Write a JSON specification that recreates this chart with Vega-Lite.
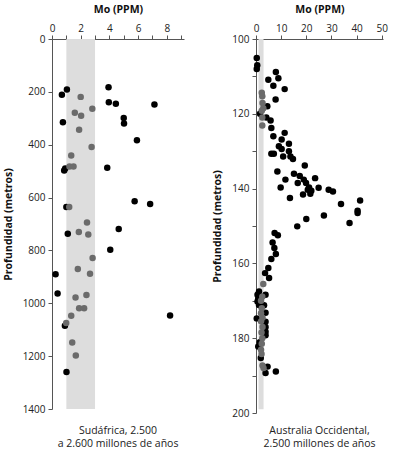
{
  "$schema": "https://vega.github.io/schema/vega-lite/v6.json",
  "background": "white",
  "padding": {"left": 3, "top": 4, "right": 5, "bottom": 0},
  "spacing": 28,
  "config": {
    "view": {"stroke": null},
    "font": "Open Sans",
    "axis": {
      "grid": false,
      "domainColor": "#555555",
      "tickColor": "#555555",
      "tickSize": 4,
      "labelFontSize": 10,
      "labelColor": "#222222",
      "titleFontSize": 10.5,
      "titleFontWeight": "bold",
      "titleColor": "#111111",
      "labelPadding": 3,
      "titlePadding": 9
    }
  },
  "datasets": {
    "sud": [
      {"mo": 3.94, "prof": 183, "serie": "A"},
      {"mo": 0.69, "prof": 211, "serie": "A"},
      {"mo": 1.04, "prof": 191, "serie": "A"},
      {"mo": 3.96, "prof": 239, "serie": "A"},
      {"mo": 4.45, "prof": 245, "serie": "A"},
      {"mo": 7.14, "prof": 248, "serie": "A"},
      {"mo": 5.0, "prof": 299, "serie": "A"},
      {"mo": 5.02, "prof": 320, "serie": "A"},
      {"mo": 0.76, "prof": 315, "serie": "A"},
      {"mo": 5.92, "prof": 383, "serie": "A"},
      {"mo": 3.85, "prof": 487, "serie": "A"},
      {"mo": 0.85, "prof": 498, "serie": "A"},
      {"mo": 0.92, "prof": 490, "serie": "A"},
      {"mo": 1.0, "prof": 636, "serie": "A"},
      {"mo": 5.76, "prof": 614, "serie": "A"},
      {"mo": 6.84, "prof": 624, "serie": "A"},
      {"mo": 4.65, "prof": 719, "serie": "A"},
      {"mo": 1.1, "prof": 737, "serie": "A"},
      {"mo": 4.06, "prof": 797, "serie": "A"},
      {"mo": 0.25, "prof": 890, "serie": "A"},
      {"mo": 0.39, "prof": 963, "serie": "A"},
      {"mo": 8.23, "prof": 1046, "serie": "A"},
      {"mo": 0.9, "prof": 1085, "serie": "A"},
      {"mo": 1.01, "prof": 1260, "serie": "A"},
      {"mo": 2.0, "prof": 219, "serie": "B"},
      {"mo": 2.81, "prof": 264, "serie": "B"},
      {"mo": 1.59, "prof": 279, "serie": "B"},
      {"mo": 2.03, "prof": 290, "serie": "B"},
      {"mo": 1.89, "prof": 343, "serie": "B"},
      {"mo": 2.76, "prof": 409, "serie": "B"},
      {"mo": 1.34, "prof": 441, "serie": "B"},
      {"mo": 1.22, "prof": 482, "serie": "B"},
      {"mo": 1.5, "prof": 482, "serie": "B"},
      {"mo": 1.2, "prof": 636, "serie": "B"},
      {"mo": 2.44, "prof": 694, "serie": "B"},
      {"mo": 1.87, "prof": 730, "serie": "B"},
      {"mo": 2.53, "prof": 740, "serie": "B"},
      {"mo": 2.83, "prof": 829, "serie": "B"},
      {"mo": 1.8, "prof": 870, "serie": "B"},
      {"mo": 2.65, "prof": 888, "serie": "B"},
      {"mo": 2.4, "prof": 969, "serie": "B"},
      {"mo": 1.64, "prof": 978, "serie": "B"},
      {"mo": 1.89, "prof": 1019, "serie": "B"},
      {"mo": 2.24, "prof": 1019, "serie": "B"},
      {"mo": 1.34, "prof": 1047, "serie": "B"},
      {"mo": 0.99, "prof": 1075, "serie": "B"},
      {"mo": 1.41, "prof": 1148, "serie": "B"},
      {"mo": 1.66, "prof": 1198, "serie": "B"}
    ],
    "aus": [
      {"mo": 0.3, "prof": 105.1, "serie": "A"},
      {"mo": 0.5, "prof": 107.0, "serie": "A"},
      {"mo": 0.3, "prof": 108.0, "serie": "A"},
      {"mo": 7.9, "prof": 108.8, "serie": "A"},
      {"mo": 8.9, "prof": 110.5, "serie": "A"},
      {"mo": 4.9, "prof": 110.9, "serie": "A"},
      {"mo": 6.9, "prof": 112.5, "serie": "A"},
      {"mo": 11.4, "prof": 113.4, "serie": "A"},
      {"mo": 7.8, "prof": 116.2, "serie": "A"},
      {"mo": 4.5, "prof": 118.0, "serie": "A"},
      {"mo": 1.6, "prof": 120.0, "serie": "A"},
      {"mo": 4.1, "prof": 121.0, "serie": "A"},
      {"mo": 5.8, "prof": 121.8, "serie": "A"},
      {"mo": 6.1, "prof": 123.8, "serie": "A"},
      {"mo": 11.4, "prof": 125.1, "serie": "A"},
      {"mo": 6.9, "prof": 126.0, "serie": "A"},
      {"mo": 10.2, "prof": 126.9, "serie": "A"},
      {"mo": 13.1, "prof": 128.0, "serie": "A"},
      {"mo": 9.1, "prof": 128.7, "serie": "A"},
      {"mo": 10.2, "prof": 129.4, "serie": "A"},
      {"mo": 13.1, "prof": 130.0, "serie": "A"},
      {"mo": 6.1, "prof": 130.7, "serie": "A"},
      {"mo": 7.1, "prof": 130.7, "serie": "A"},
      {"mo": 10.8, "prof": 131.4, "serie": "A"},
      {"mo": 13.7, "prof": 131.4, "serie": "A"},
      {"mo": 14.7, "prof": 132.1, "serie": "A"},
      {"mo": 19.4, "prof": 133.8, "serie": "A"},
      {"mo": 8.5, "prof": 135.4, "serie": "A"},
      {"mo": 15.1, "prof": 136.0, "serie": "A"},
      {"mo": 17.4, "prof": 136.6, "serie": "A"},
      {"mo": 11.7, "prof": 137.6, "serie": "A"},
      {"mo": 19.0, "prof": 137.6, "serie": "A"},
      {"mo": 23.5, "prof": 137.2, "serie": "A"},
      {"mo": 16.6, "prof": 138.5, "serie": "A"},
      {"mo": 19.9, "prof": 138.5, "serie": "A"},
      {"mo": 9.8, "prof": 139.7, "serie": "A"},
      {"mo": 21.1, "prof": 139.7, "serie": "A"},
      {"mo": 24.9, "prof": 139.8, "serie": "A"},
      {"mo": 20.6, "prof": 140.3, "serie": "A"},
      {"mo": 22.0, "prof": 140.6, "serie": "A"},
      {"mo": 28.9, "prof": 140.3, "serie": "A"},
      {"mo": 30.6, "prof": 140.8, "serie": "A"},
      {"mo": 18.7, "prof": 141.6, "serie": "A"},
      {"mo": 21.6, "prof": 141.4, "serie": "A"},
      {"mo": 13.5, "prof": 142.5, "serie": "A"},
      {"mo": 33.8, "prof": 144.1, "serie": "A"},
      {"mo": 41.4, "prof": 143.2, "serie": "A"},
      {"mo": 40.4, "prof": 145.9, "serie": "A"},
      {"mo": 40.4, "prof": 146.5, "serie": "A"},
      {"mo": 37.2, "prof": 149.2, "serie": "A"},
      {"mo": 27.0, "prof": 147.2, "serie": "A"},
      {"mo": 20.0, "prof": 148.1, "serie": "A"},
      {"mo": 16.4, "prof": 150.1, "serie": "A"},
      {"mo": 7.4, "prof": 151.9, "serie": "A"},
      {"mo": 8.7, "prof": 152.5, "serie": "A"},
      {"mo": 6.6, "prof": 154.4, "serie": "A"},
      {"mo": 7.3, "prof": 155.9, "serie": "A"},
      {"mo": 7.9, "prof": 157.5, "serie": "A"},
      {"mo": 6.1, "prof": 158.8, "serie": "A"},
      {"mo": 4.9, "prof": 161.2, "serie": "A"},
      {"mo": 3.6, "prof": 162.6, "serie": "A"},
      {"mo": 5.2, "prof": 163.9, "serie": "A"},
      {"mo": 1.2, "prof": 167.5, "serie": "A"},
      {"mo": 0.6, "prof": 168.4, "serie": "A"},
      {"mo": 0.9, "prof": 169.3, "serie": "A"},
      {"mo": 0.6, "prof": 170.2, "serie": "A"},
      {"mo": 1.2, "prof": 171.1, "serie": "A"},
      {"mo": 3.8, "prof": 168.4, "serie": "A"},
      {"mo": 3.2, "prof": 171.2, "serie": "A"},
      {"mo": 3.8, "prof": 173.2, "serie": "A"},
      {"mo": 0.3, "prof": 174.7, "serie": "A"},
      {"mo": 3.8, "prof": 175.6, "serie": "A"},
      {"mo": 3.8, "prof": 177.0, "serie": "A"},
      {"mo": 3.8, "prof": 178.3, "serie": "A"},
      {"mo": 3.8, "prof": 179.2, "serie": "A"},
      {"mo": 1.5, "prof": 181.1, "serie": "A"},
      {"mo": 0.9, "prof": 182.2, "serie": "A"},
      {"mo": 1.9, "prof": 185.3, "serie": "A"},
      {"mo": 4.6, "prof": 187.6, "serie": "A"},
      {"mo": 7.9, "prof": 188.9, "serie": "A"},
      {"mo": 3.8, "prof": 189.3, "serie": "A"},
      {"mo": 2.3, "prof": 114.4, "serie": "B"},
      {"mo": 2.5, "prof": 115.3, "serie": "B"},
      {"mo": 2.6, "prof": 117.1, "serie": "B"},
      {"mo": 2.9, "prof": 118.5, "serie": "B"},
      {"mo": 2.3, "prof": 119.2, "serie": "B"},
      {"mo": 2.5, "prof": 121.0, "serie": "B"},
      {"mo": 2.5, "prof": 123.1, "serie": "B"},
      {"mo": 2.9, "prof": 165.5, "serie": "B"},
      {"mo": 2.5, "prof": 168.9, "serie": "B"},
      {"mo": 2.0, "prof": 170.0, "serie": "B"},
      {"mo": 2.3, "prof": 172.0, "serie": "B"},
      {"mo": 2.0, "prof": 173.3, "serie": "B"},
      {"mo": 2.6, "prof": 174.5, "serie": "B"},
      {"mo": 2.0, "prof": 175.5, "serie": "B"},
      {"mo": 2.6, "prof": 177.0, "serie": "B"},
      {"mo": 2.2, "prof": 178.5, "serie": "B"},
      {"mo": 2.5, "prof": 180.0, "serie": "B"},
      {"mo": 2.3, "prof": 181.5, "serie": "B"},
      {"mo": 2.0, "prof": 183.1, "serie": "B"},
      {"mo": 2.2, "prof": 184.2, "serie": "B"},
      {"mo": 2.6, "prof": 187.3, "serie": "B"},
      {"mo": 3.0, "prof": 188.0, "serie": "B"}
    ],
    "banda_sud": [{"desde": 1, "hasta": 3}],
    "banda_aus": [{"desde": 1, "hasta": 3, "prof_min": 100, "prof_max": 199}]
  },
  "hconcat": [
    {
      "width": 132,
      "height": 370,
      "title": {
        "text": ["Sudáfrica, 2.500", "a 2.600 millones de años"],
        "orient": "bottom",
        "anchor": "middle",
        "fontSize": 10.5,
        "fontWeight": "normal",
        "color": "#222222",
        "lineHeight": 13,
        "offset": 12
      },
      "layer": [
        {
          "data": {"name": "banda_sud"},
          "mark": {"type": "rect", "color": "#dddddd"},
          "encoding": {
            "x": {"field": "desde", "type": "quantitative", "axis": {"orient": "top", "title": "Mo (PPM)", "values": [0,1,2,3,4,5,6,7,8,9], "labelExpr": "datum.value % 2 === 0 ? datum.label : ''", "labelPadding": 2, "labelOverlap": false, "labelBound": false, "labelFlush": false}},
            "x2": {"field": "hasta"}
          }
        },
        {
          "data": {"name": "sud"},
          "mark": {"type": "circle", "size": 42, "opacity": 1},
          "encoding": {
            "x": {
              "field": "mo", "type": "quantitative",
              "scale": {"domain": [0, 9.2], "nice": false, "zero": true},
              "axis": {"orient": "top", "title": "Mo (PPM)", "values": [0,1,2,3,4,5,6,7,8,9], "labelExpr": "datum.value % 2 === 0 ? datum.label : ''", "labelPadding": 2, "labelOverlap": false, "labelBound": false, "labelFlush": false}
            },
            "y": {
              "field": "prof", "type": "quantitative",
              "scale": {"domain": [0, 1400], "reverse": true, "nice": false},
              "axis": {"title": "Profundidad (metros)", "values": [0,200,400,600,800,1000,1200,1400], "format": "d", "labelOverlap": false}
            },
            "color": {"field": "serie", "type": "nominal", "scale": {"domain": ["A", "B"], "range": ["#000000", "#6b6b6b"]}, "legend": null}
          }
        }
      ]
    },
    {
      "width": 127,
      "height": 374,
      "title": {
        "text": ["Australia Occidental,", "2.500 millones de años"],
        "orient": "bottom",
        "anchor": "middle",
        "fontSize": 10.5,
        "fontWeight": "normal",
        "color": "#222222",
        "lineHeight": 13,
        "offset": 8
      },
      "layer": [
        {
          "data": {"name": "banda_aus"},
          "mark": {"type": "rect", "color": "#dddddd"},
          "encoding": {
            "x": {"field": "desde", "type": "quantitative", "axis": {"orient": "top", "title": "Mo (PPM)", "values": [0,10,20,30,40,50], "labelPadding": 2, "labelOverlap": false, "labelBound": false, "labelFlush": false}},
            "x2": {"field": "hasta"},
            "y": {"field": "prof_min", "type": "quantitative", "axis": {"title": "Profundidad (metros)", "values": [100,110,120,130,140,150,160,170,180,190,200], "labelExpr": "datum.value % 20 === 0 ? datum.label : ''", "labelOverlap": false}},
            "y2": {"field": "prof_max"}
          }
        },
        {
          "data": {"name": "aus"},
          "mark": {"type": "circle", "size": 42, "opacity": 1},
          "encoding": {
            "x": {
              "field": "mo", "type": "quantitative",
              "scale": {"domain": [0, 50.5], "nice": false},
              "axis": {"orient": "top", "title": "Mo (PPM)", "values": [0,10,20,30,40,50], "labelPadding": 2, "labelOverlap": false, "labelBound": false, "labelFlush": false}
            },
            "y": {
              "field": "prof", "type": "quantitative",
              "scale": {"domain": [100, 200], "reverse": true, "nice": false, "zero": false},
              "axis": {"title": "Profundidad (metros)", "values": [100,110,120,130,140,150,160,170,180,190,200], "labelExpr": "datum.value % 20 === 0 ? datum.label : ''", "labelOverlap": false}
            },
            "color": {"field": "serie", "type": "nominal", "scale": {"domain": ["A", "B"], "range": ["#000000", "#6b6b6b"]}, "legend": null}
          }
        }
      ]
    }
  ]
}
